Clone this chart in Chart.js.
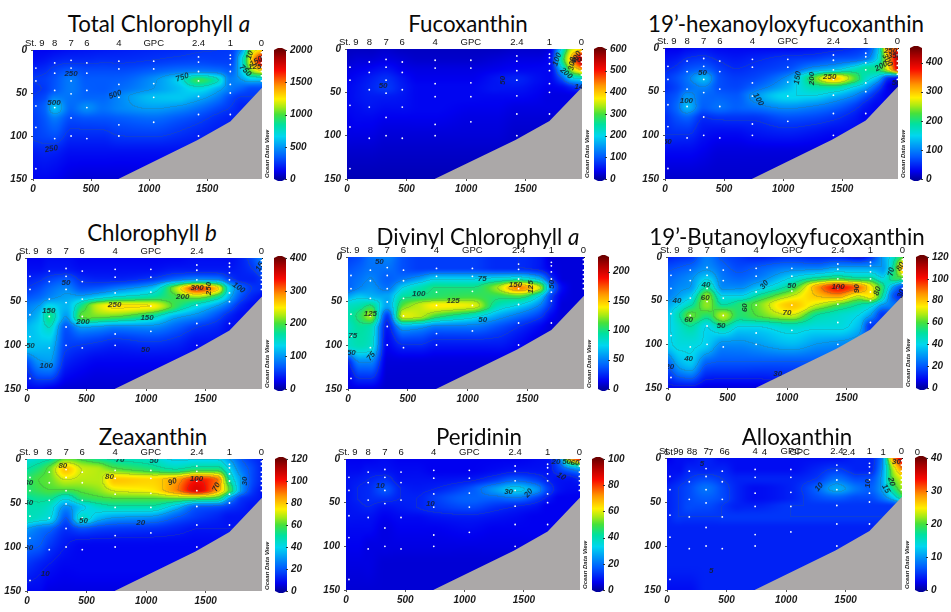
<!DOCTYPE html>
<html><head><meta charset="utf-8">
<script src="https://cdn.jsdelivr.net/npm/chart.js@4"></script>
<style>
html,body{margin:0;padding:0;background:#fff;width:951px;height:612px;overflow:hidden}
canvas{position:absolute}
.t{position:absolute;transform:translate(-50%,-50%);font-family:Lato,"Open Sans",sans-serif;font-size:22.3px;color:#0a0a0a;white-space:nowrap;line-height:1}
</style></head><body>
<script>
// ---------- shared axes / section geometry ----------
const distMax = 1973, depthMax = 150;
const distTicks = [0,500,1000,1500];
const depthTicks = [0,50,100,150];
const stationNames = ["St. 9","8","7","6","4","GPC","2.4","1","0"];
const stationTicks = [15,187,328,464,740,1040,1426,1700,1968];
const distNodes  = [0,100,187,328,464,600,740,1040,1250,1426,1600,1700,1800,1890,1973];
const depthNodes = [0,12,24,35,45,55,67,80,100,120,150];
const bottomDist  = [735,1414,1700,1973];
const bottomDepth = [150,105,83,44];
const sampleDist  = [25,25,25,25,25,187,187,187,187,187,328,328,328,328,328,328,464,464,464,464,464,740,740,740,740,740,740,1040,1040,1040,1040,1040,1426,1426,1426,1426,1426,1426,1426,1700,1700,1700,1700,1700,1700,1700,1968,1968,1968,1968,1968,1968,1968];
const sampleDepth = [21,36,65,90,138,15,27,47,67,103,12,21,36,51,79,100,15,27,47,67,103,13,22,40,55,87,100,13,22,39,55,84,8,14,25,36,54,75,100,6,10,17,25,40,50,75,3,8,15,20,25,30,36];

// ---------- pigment concentration read from each section (rows = depthNodes, cols = distNodes) ----------
const totalChlField = [
[130,130,140,160,170,180,190,210,220,240,250,260,500,1150,1300],
[150,170,200,220,220,230,230,250,270,280,270,270,700,1350,1800],
[210,230,280,330,300,300,300,350,400,420,390,340,650,1100,1300],
[250,270,320,420,340,340,350,480,650,950,750,430,500,600,600],
[230,260,330,420,350,340,380,500,600,700,550,420,350,300,300],
[250,300,430,400,370,370,450,600,620,560,420,300,250,250,250],
[280,360,600,380,470,400,450,520,480,400,300,250,200,200,200],
[260,330,420,300,320,320,340,380,330,280,220,200,200,200,200],
[260,290,310,220,220,220,250,260,230,200,180,180,180,180,180],
[180,200,190,150,150,150,150,150,150,150,150,150,150,150,150],
[130,130,120,90,80,80,80,90,90,90,90,90,90,90,90]];
const fucoField = [
[15,15,15,20,15,15,15,15,15,20,20,30,200,350,380],
[20,25,25,30,25,20,20,20,25,30,30,40,250,420,560],
[30,35,40,50,35,30,30,30,35,40,40,40,170,340,420],
[35,45,55,70,50,35,35,35,50,60,45,40,90,180,200],
[40,50,60,75,55,40,40,40,50,50,40,35,40,60,80],
[40,50,55,55,50,40,40,40,40,40,35,30,30,30,30],
[40,45,50,45,45,40,40,35,35,30,30,30,30,30,30],
[35,40,40,35,35,35,35,30,30,25,25,25,25,25,25],
[30,30,30,25,25,25,25,25,25,20,20,20,20,20,20],
[20,20,20,18,18,18,18,18,18,18,18,18,18,18,18],
[10,10,10,10,10,10,10,10,10,10,10,10,10,10,10]];
const hexField = [
[25,25,30,35,30,30,30,30,35,40,50,60,130,330,350],
[35,40,50,55,45,40,45,55,60,70,75,90,150,300,420],
[45,55,70,80,60,50,55,70,110,130,170,190,200,280,400],
[55,70,90,130,70,60,65,110,220,300,230,170,130,50,30],
[50,65,85,100,70,65,80,130,180,190,150,120,70,25,8],
[60,75,110,85,80,75,105,150,150,130,100,70,40,25,20],
[60,85,130,80,90,80,90,110,100,85,60,40,30,30,30],
[50,70,80,50,55,55,55,70,65,55,40,30,30,30,30],
[50,50,50,35,30,30,35,40,35,30,30,30,30,30,30],
[30,30,30,25,20,20,20,20,20,20,20,20,20,20,20],
[15,15,15,15,15,15,15,15,15,15,15,15,15,15,15]];
const chlbField = [
[25,25,30,30,25,25,25,25,25,30,30,30,40,60,90],
[30,30,35,35,30,30,30,30,35,35,35,35,40,50,75],
[40,45,55,65,45,40,40,50,75,90,85,55,40,40,50],
[50,60,75,90,65,70,85,120,225,320,260,130,75,50,45],
[65,75,90,105,110,130,150,170,195,215,170,110,60,40,30],
[85,100,135,115,180,235,255,250,190,140,100,70,40,30,30],
[95,120,175,100,205,210,205,165,110,90,60,40,30,30,30],
[115,130,150,65,100,95,85,90,70,50,40,30,30,30,30],
[125,120,120,55,50,45,40,45,40,30,30,30,30,30,30],
[60,95,100,40,30,25,25,25,25,25,25,25,25,25,25],
[25,25,20,15,15,15,15,15,15,15,15,15,15,15,15]];
const dvChlField = [
[30,35,45,50,35,30,30,30,25,25,20,10,10,10,10],
[35,40,45,45,35,30,30,30,25,25,20,12,10,10,10],
[40,45,50,40,45,55,70,70,75,80,60,25,10,10,10],
[40,50,55,45,75,90,100,100,125,165,130,50,15,10,10],
[60,70,65,60,95,100,105,110,105,110,75,30,12,10,10],
[85,90,100,60,115,130,140,135,90,75,50,25,10,10,10],
[90,105,125,30,135,130,110,85,60,45,30,15,10,10,10],
[85,95,90,20,60,55,45,45,35,25,15,10,10,10,10],
[85,90,85,15,25,25,20,20,20,15,10,10,10,10,10],
[20,50,50,10,10,10,10,10,10,10,10,10,10,10,10],
[10,10,10,8,8,8,8,8,8,8,8,8,8,8,8]];
const butField = [
[12,14,15,25,18,15,12,14,12,12,8,14,30,45,60],
[18,20,22,28,22,18,20,25,25,30,30,30,30,50,85],
[22,25,28,38,25,22,25,40,50,55,50,50,40,55,60],
[24,28,30,50,28,28,35,55,85,100,90,75,55,30,15],
[26,32,38,65,40,40,50,70,80,85,70,75,50,20,10],
[32,40,48,65,50,55,62,80,70,60,50,45,30,25,20],
[36,50,62,55,68,55,60,70,50,45,40,30,15,15,15],
[38,45,50,40,50,40,40,45,42,42,35,15,15,15,15],
[38,42,42,38,28,28,30,35,30,28,25,20,20,20,20],
[22,35,38,22,20,20,20,20,20,20,20,20,20,20,20],
[8,8,8,5,5,5,5,8,8,8,8,8,8,8,8]];
const zeaField = [
[42,45,48,62,58,52,48,45,38,38,38,30,20,15,12],
[50,55,62,80,70,68,62,55,50,55,55,40,25,18,12],
[55,60,62,70,68,68,80,78,85,100,90,50,30,18,12],
[55,58,60,60,62,65,72,75,88,105,85,60,30,16,10],
[50,52,52,42,55,58,60,60,62,60,55,30,15,12,10],
[48,48,45,28,38,45,48,48,35,20,18,15,12,10,10],
[48,45,42,20,45,35,30,28,20,15,12,10,10,10,10],
[30,25,22,14,18,16,15,14,12,10,10,10,10,10,10],
[22,20,15,10,8,8,8,8,8,8,8,8,8,8,8],
[15,12,10,8,8,8,8,8,8,8,8,8,8,8,8],
[8,8,6,6,6,6,6,6,6,6,6,6,6,6,6]];
const periField = [
[6,6,6,7,6,6,6,6,6,6,7,8,20,70,85],
[7,7,8,8,7,7,6,6,7,8,8,8,14,20,25],
[8,9,10,12,8,8,8,9,13,18,14,10,8,8,10],
[8,10,11,16,10,9,10,16,25,32,25,14,8,7,7],
[8,10,11,12,10,10,13,18,18,20,14,9,6,6,6],
[8,9,10,8,9,10,12,15,12,10,8,6,6,6,6],
[8,8,8,6,7,7,8,9,8,7,6,6,6,6,6],
[7,7,7,5,6,6,6,7,6,6,6,6,6,6,6],
[6,6,5,5,5,5,5,5,5,5,5,5,5,5,5],
[5,5,5,4,4,4,4,4,4,4,4,4,4,4,4],
[4,4,4,4,4,4,4,4,4,4,4,4,4,4,4]];
const alloField = [
[2,3,3,4,3,3,3,3,3,3,4,4,8,28,36],
[3,3,4,4,4,3,3,3,4,5,4,4,9,22,30],
[3,4,5,6,5,4,4,4,5,8,6,6,10,20,24],
[4,5,6,8,6,4,3,4,7,11,8,7,10,17,22],
[4,5,6,7,6,4,3,4,6,7,6,6,8,12,18],
[4,5,6,6,5,4,4,5,5,5,5,5,5,5,5],
[4,5,5,5,5,5,5,5,5,5,5,5,5,5,5],
[4,4,4,4,4,4,4,4,4,4,4,4,4,4,4],
[4,4,4,4,4,4,4,4,4,4,4,4,4,4,4],
[4,4,4,4,4,4,4,4,4,4,4,4,4,4,4],
[3,3,3,4,4,4,4,4,4,4,4,4,4,4,4]];

// ---------- contour labels [distance, depth, text, angle] ----------
const totalChlLabels = [[328,28,"250",0],[181,61,"500",0],[708,52,"500",-20],[1287,32,"750",-20],[1829,24,"750",45],[158,115,"250",-10],[1870,6,"10",-70],[1930,19,"1250",0],[1940,12,"1500",-30]];
const fucoLabels = [[303,43,"50",0],[1309,36,"50",-90],[1765,12,"100",-70],[1840,28,"200",40],[1891,17,"300",-80],[1925,10,"400",-60],[1950,12,"500",0],[1947,44,"14",0]];
const hexLabels = [[317,28,"50",0],[181,61,"100",0],[790,59,"100",60],[1124,34,"150",-80],[1245,35,"200",-90],[1395,33,"250",0],[1831,21,"200",-30],[1882,14,"300",60],[1944,9,"350",0],[1910,3,"250",0],[20,107,"50",0],[1958,40,"50",0]];
const chlbLabels = [[328,28,"50",0],[182,60,"150",0],[28,100,"50",0],[162,124,"100",0],[470,73,"200",0],[736,54,"250",0],[1008,69,"150",0],[994,105,"50",0],[1308,44,"200",0],[1428,34,"300",0],[1526,35,"250",-90],[1778,34,"100",35],[1954,10,"15",-60]];
const dvChlLabels = [[262,6,"50",0],[1122,25,"75",0],[591,42,"100",0],[879,50,"125",0],[1400,32,"150",0],[1532,34,"125",-90],[1707,31,"50",-90],[187,64,"125",0],[39,90,"75",0],[28,109,"50",0],[193,113,"75",-50],[1127,71,"50",0]];
const butLabels = [[318,32,"40",0],[312,47,"60",0],[75,50,"40",0],[173,72,"60",0],[446,79,"50",0],[173,116,"40",0],[647,58,"60",-90],[809,32,"30",-50],[1038,33,"50",0],[999,64,"70",0],[1428,34,"100",0],[1582,36,"90",-90],[1758,39,"80",-70],[1875,17,"70",-80],[1953,11,"80",-60],[1958,42,"30",-70],[921,134,"30",0],[14,126,"20",0]];
const zeaLabels = [[301,8,"80",0],[781,1,"70",0],[1066,2,"50",0],[692,20,"80",0],[1222,26,"90",-20],[1423,23,"100",0],[1590,32,"70",-65],[1827,25,"30",-90],[14,27,"30",0],[14,50,"50",0],[474,70,"50",0],[954,73,"20",0],[14,101,"30",0],[153,130,"10",0]];
const periLabels = [[289,31,"10",0],[711,51,"10",0],[1371,38,"30",0],[1540,39,"20",-50],[1815,20,"10",30],[1770,3,"20",0],[1860,3,"50",0],[1930,4,"60",0]];
const alloLabels = [[294,7,"5",0],[1277,33,"10",-50],[1688,29,"10",-90],[1837,35,"15",60],[1884,27,"20",75],[372,128,"5",0],[1926,4,"30",0]];

// second, offset set of station labels visible on the Alloxanthin panel
const alloExtraTicks = [56,232,367,504,818,1114,1526,1814,2102];

// ---------- colour-bar ticks ----------
const totalChlBar = [0,500,1000,1500,2000];
const fucoBar = [0,100,200,300,400,500,600];
const hexBar = [0,100,200,300,400];
const chlbBar = [0,100,200,300,400];
const dvChlBar = [0,50,100,150,200];
const butBar = [0,20,40,60,80,100,120];
const zeaBar = [0,20,40,60,80,100,120];
const periBar = [0,20,40,60,80,100];
const alloBar = [0,10,20,30,40];

// ---------- panel list ----------
const panels = [
 {title:'Total Chlorophyll <i>a</i>',cx:159,cy:24,plot:[33,50,262,179],bar:[274,286],max:2000,cb:totalChlBar,level:250,field:totalChlField,labels:totalChlLabels},
 {title:'Fucoxanthin',cx:468,cy:24,plot:[347,49,582,179],bar:[594,606],max:600,cb:fucoBar,level:100,field:fucoField,labels:fucoLabels},
 {title:'19’-hexanoyloxyfucoxanthin',cx:786,cy:24,plot:[665,48,898,179],bar:[910,922],max:450,cb:hexBar,level:50,field:hexField,labels:hexLabels},
 {title:'Chlorophyll <i>b</i>',cx:152,cy:233,plot:[27,258,262,389],bar:[274,286],max:400,cb:chlbBar,level:50,field:chlbField,labels:chlbLabels},
 {title:'Divinyl Chlorophyll <i>a</i>',cx:478,cy:237,plot:[348,257,584,389],bar:[598,609],max:225,cb:dvChlBar,level:25,field:dvChlField,labels:dvChlLabels},
 {title:'19’-Butanoyloxyfucoxanthin',cx:787,cy:237,plot:[668,257,903,388],bar:[916,928],max:120,cb:butBar,level:10,field:butField,labels:butLabels},
 {title:'Zeaxanthin',cx:153,cy:437,plot:[27,459,262,591],bar:[275,287],max:120,cb:zeaBar,level:10,field:zeaField,labels:zeaLabels},
 {title:'Peridinin',cx:479,cy:437,plot:[346,459,580,590],bar:[592,604],max:100,cb:periBar,level:10,field:periField,labels:periLabels},
 {title:'Alloxanthin',cx:797,cy:437,plot:[667,458,902,590],bar:[915,927],max:40,cb:alloBar,level:5,field:alloField,labels:alloLabels,extra:alloExtraTicks}
];

// ---------- colour map (ODV rainbow) ----------
const ramp = [[0,0,0,160],[.06,0,0,240],[.17,0,90,255],[.33,0,215,240],[.42,0,225,160],[.5,70,225,60],[.56,170,235,20],[.62,255,240,0],[.72,255,150,0],[.84,250,10,0],[.94,170,0,0],[1,110,0,0]];
function rampColor(f){
  f=Math.max(0,Math.min(1,f));
  for(let i=1;i<ramp.length;i++){ if(f<=ramp[i][0]){
    const a=ramp[i-1],b=ramp[i],t=(f-a[0])/(b[0]-a[0]);
    return [a[1]+(b[1]-a[1])*t,a[2]+(b[2]-a[2])*t,a[3]+(b[3]-a[3])*t];
  }}
  return ramp[ramp.length-1].slice(1);
}
// monotone cubic slopes for uneven nodes
function slopes(xs,ys){
  const n=xs.length,d=[],m=new Array(n);
  for(let i=0;i<n-1;i++) d.push((ys[i+1]-ys[i])/(xs[i+1]-xs[i]));
  m[0]=d[0]; m[n-1]=d[n-2];
  for(let i=1;i<n-1;i++){
    if(d[i-1]*d[i]<=0) m[i]=0;
    else{ const h0=xs[i]-xs[i-1],h1=xs[i+1]-xs[i],w0=2*h1+h0,w1=h1+2*h0; m[i]=(w0+w1)/(w0/d[i-1]+w1/d[i]); }
  }
  return m;
}
function hermite(xs,ys,m,x){
  let i=0; const n=xs.length;
  if(x<=xs[0]) return ys[0]; if(x>=xs[n-1]) return ys[n-1];
  while(x>xs[i+1]) i++;
  const h=xs[i+1]-xs[i],t=(x-xs[i])/h,t2=t*t,t3=t2*t;
  return (2*t3-3*t2+1)*ys[i]+(t3-2*t2+t)*h*m[i]+(-2*t3+3*t2)*ys[i+1]+(t3-t2)*h*m[i+1];
}

const sectionPlugin = {
  id:'section',
  beforeDatasetsDraw(chart){
    const o=chart.config.options.plugins.section, a=chart.chartArea, ctx=chart.ctx;
    const sx=chart.scales.x, sy=chart.scales.y;
    const w=Math.round(a.right-a.left), h=Math.round(a.bottom-a.top);
    if(w<2||h<2) return;
    const rowSl=o.field.map(r=>slopes(distNodes,r));
    const vals=new Float32Array(w*h);
    const depthOfRow=[]; for(let j=0;j<h;j++) depthOfRow.push(sy.getValueForPixel(a.top+j+.5));
    for(let i=0;i<w;i++){
      const d=sx.getValueForPixel(a.left+i+.5);
      const col=o.field.map((r,k)=>hermite(distNodes,r,rowSl[k],d));
      const cm=slopes(depthNodes,col);
      for(let j=0;j<h;j++) vals[j*w+i]=Math.max(0,hermite(depthNodes,col,cm,depthOfRow[j]));
    }
    const off=document.createElement('canvas'); off.width=w; off.height=h;
    const oc=off.getContext('2d'), img=oc.createImageData(w,h);
    for(let j=0;j<h;j++) for(let i=0;i<w;i++){
      const v=vals[j*w+i]; let c=rampColor(v/o.max);
      const lv=Math.floor(v/o.level);
      const edge=(i<w-1&&Math.floor(vals[j*w+i+1]/o.level)!==lv)||(j<h-1&&Math.floor(vals[(j+1)*w+i]/o.level)!==lv);
      if(edge) c=[c[0]*.8+15,c[1]*.8+20,c[2]*.8+15];
      const p=(j*w+i)*4; img.data[p]=c[0]; img.data[p+1]=c[1]; img.data[p+2]=c[2]; img.data[p+3]=255;
    }
    oc.putImageData(img,0,0);
    ctx.drawImage(off,a.left,a.top);
    // colour bar, driven by the value axis
    const sc=chart.scales.c, bl=o.bar[0]-o.canvasLeft, br=o.bar[1]-o.canvasLeft;
    const top=sc.getPixelForValue(o.max), bot=sc.getPixelForValue(0);
    for(let y=Math.floor(top);y<bot;y++){
      const c=rampColor(sc.getValueForPixel(y+.5)/o.max);
      ctx.fillStyle=`rgb(${c[0]|0},${c[1]|0},${c[2]|0})`;
      ctx.fillRect(bl,y,br-bl,1);
    }
    ctx.fillStyle='rgb(110,0,0)'; ctx.beginPath(); ctx.moveTo(bl,top); ctx.lineTo(bl+4,top-2); ctx.lineTo(br-4,top-2); ctx.lineTo(br,top); ctx.fill();
    ctx.fillStyle='rgb(0,0,160)'; ctx.beginPath(); ctx.moveTo(bl,bot); ctx.lineTo(bl+4,bot+2); ctx.lineTo(br-4,bot+2); ctx.lineTo(br,bot); ctx.fill();
    ctx.strokeStyle='#333'; ctx.lineWidth=1;
    sc.ticks.forEach(t=>{const y=Math.round(sc.getPixelForValue(t.value))+.5; ctx.beginPath(); ctx.moveTo(br-1,y); ctx.lineTo(br+1,y); ctx.stroke();});
  },
  afterDatasetsDraw(chart){
    const o=chart.config.options.plugins.section, a=chart.chartArea, ctx=chart.ctx;
    const sx=chart.scales.x, sy=chart.scales.y;
    ctx.save();
    ctx.beginPath(); ctx.rect(a.left,a.top,a.right-a.left,a.bottom-a.top); ctx.clip();
    ctx.font='italic bold 8px "Liberation Sans"'; ctx.fillStyle='rgba(20,30,40,.85)'; ctx.textAlign='center'; ctx.textBaseline='middle';
    o.labels.forEach(l=>{ ctx.save(); ctx.translate(sx.getPixelForValue(l[0]),sy.getPixelForValue(l[1])); ctx.rotate(l[3]*Math.PI/180); ctx.fillText(l[2],0,0); ctx.restore(); });
    ctx.restore();
    ctx.save();
    ctx.translate(a.right+5,a.bottom-1); ctx.rotate(-Math.PI/2);
    ctx.font='italic bold 6px "Liberation Sans"'; ctx.fillStyle='#222'; ctx.textAlign='left'; ctx.textBaseline='middle';
    ctx.fillText('Ocean Data View',0,0);
    ctx.restore();
    if(o.extra){
      ctx.font='9.5px "Liberation Sans"'; ctx.fillStyle='#111'; ctx.textAlign='center'; ctx.textBaseline='bottom';
      o.extra.forEach((v,i)=>ctx.fillText(stationNames[i],sx.getPixelForValue(v),a.top-1));
    }
  }
};

const axisFont={family:'"Liberation Sans"',size:10,weight:'bold',style:'italic'};
const M={l:30,t:22,r:60,b:18};
panels.forEach(p=>{
  const [x0,y0,x1,y1]=p.plot;
  const d=document.createElement('div'); d.className='t'; d.innerHTML=p.title; d.style.left=p.cx+'px'; d.style.top=p.cy+'px'; document.body.appendChild(d);
  const cv=document.createElement('canvas');
  const W=x1-x0+M.l+M.r; let H=y1-y0+M.t+M.b; const L=x0-M.l;
  cv.width=W; cv.height=H; cv.style.left=L+'px'; cv.style.top=(y0-M.t)+'px'; cv.style.width=W+'px'; cv.style.height=H+'px';
  document.body.appendChild(cv);
  const chart=new Chart(cv,{
    type:'scatter',
    data:{datasets:[
      {type:'line',label:'Bottom',data:bottomDist.map((v,i)=>({x:v,y:bottomDepth[i]})),backgroundColor:'#ABA8A8',borderWidth:0,pointRadius:0,fill:'start',tension:0,order:2},
      {label:'Samples',data:sampleDist.map((v,i)=>({x:v,y:sampleDepth[i]})),backgroundColor:'#fff',borderWidth:0,pointRadius:0.9,order:1}
    ]},
    options:{
      responsive:false,maintainAspectRatio:false,animation:false,devicePixelRatio:1,
      layout:{padding:0,autoPadding:false},
      plugins:{legend:{display:false},tooltip:{enabled:false},title:{display:false},
        section:{field:p.field,labels:p.labels,max:p.max,level:p.level,bar:p.bar,canvasLeft:L,extra:p.extra}},
      scales:{
        x:{type:'linear',position:'bottom',min:0,max:distMax,z:1,
          afterBuildTicks:s=>{s.ticks=distTicks.map(v=>({value:v}))},
          grid:{drawOnChartArea:false,drawTicks:true,tickLength:2,color:'#555'},border:{display:false},
          ticks:{autoSkip:false,maxRotation:0,padding:2,color:'#1a1a1a',font:axisFont,callback:v=>String(v)},
          afterFit:s=>{s.height=M.b}},
        x2:{type:'linear',position:'top',min:0,max:distMax,z:1,
          grid:{drawOnChartArea:false,drawTicks:false},border:{display:true,color:'#111',width:1},
          afterBuildTicks:s=>{s.ticks=stationTicks.map(v=>({value:v}))},
          ticks:{autoSkip:false,maxRotation:0,padding:1,color:'#111',font:{family:'"Liberation Sans"',size:9.5},callback:v=>stationNames[stationTicks.indexOf(v)]},
          afterFit:s=>{s.height=M.t}},
        y:{type:'linear',position:'left',reverse:true,min:0,max:depthMax,z:1,
          afterBuildTicks:s=>{s.ticks=depthTicks.map(v=>({value:v}))},
          grid:{drawOnChartArea:false,drawTicks:true,tickLength:2,color:'#555'},border:{display:false},
          ticks:{autoSkip:false,padding:4,color:'#1a1a1a',font:axisFont,callback:v=>String(v)},
          afterFit:s=>{s.width=M.l}},
        c:{type:'linear',position:'right',min:0,max:p.max,
          afterBuildTicks:s=>{s.ticks=p.cb.map(v=>({value:v}))},
          grid:{display:false},border:{display:false},
          ticks:{autoSkip:false,padding:p.bar[1]+4-x1-8,color:'#1a1a1a',font:axisFont,callback:v=>String(v)},
          afterFit:s=>{s.width=M.r}}
      }
    },
    plugins:[sectionPlugin]
  });
  // settle the frame so the plotting area lands on the wanted rectangle
  for(let k=0;k<4;k++){
    const a=chart.chartArea, got=a.bottom-a.top, want=y1-y0;
    if(Math.abs(got-want)<0.5) break;
    H+=want-got;
    chart.resize(W,H);
  }
  cv.style.left=L+'px';
  cv.style.top=(y0-chart.chartArea.top)+'px';
});
</script>
</body></html>
